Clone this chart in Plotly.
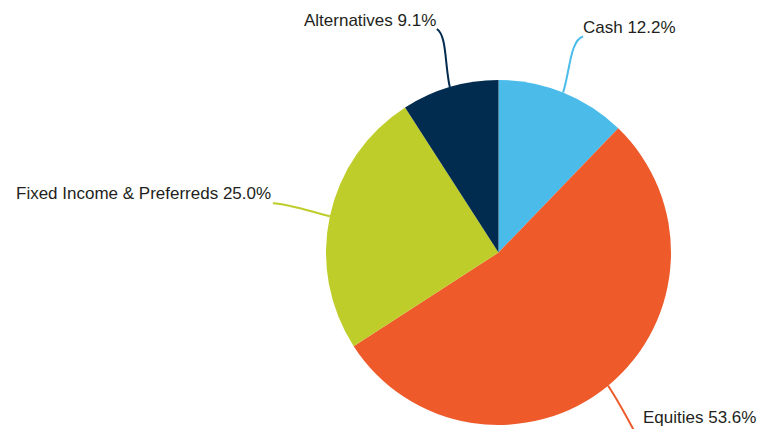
import math
import plotly.graph_objects as go

# ---- data ----
categories = ["Cash", "Equities", "Fixed Income & Preferreds", "Alternatives"]
values = [12.2, 53.6, 25.0, 9.1]
colors = ["#4BBCEA", "#EE5A2A", "#BFCD2B", "#012B4F"]

W, H = 761, 429
CX, CY, R = 498.5, 252.5, 172.5  # pie centre / radius in pixels

# label placement (style): offsets from the slice edge point to the label anchor
label_style = {
    "Cash": dict(xanchor="left", dx=18, dy=-65, c1=(7, -22), c2=(7, -52)),
    "Equities": dict(xanchor="left", dx=33, dy=32, c1=(10, 15), c2=(18, 30)),
    "Fixed Income & Preferreds": dict(xanchor="right", dx=-57, dy=-23, c1=(-20, -5), c2=(-40, -12)),
    "Alternatives": dict(xanchor="right", dx=-12, dy=-67, c1=(-5, -22), c2=(-3, -52)),
}
line_end = {
    "Cash": (20, -56),
    "Equities": (27, 47),
    "Fixed Income & Preferreds": (-57, -13),
    "Alternatives": (-13, -58),
}


def px(x, y):
    return x / W, 1 - y / H


fig = go.Figure(go.Pie(
    labels=categories,
    values=values,
    sort=False,
    direction="clockwise",
    rotation=0,
    marker=dict(colors=colors, line=dict(color="white", width=0)),
    textinfo="none",
    hoverinfo="label+percent",
    showlegend=False,
    domain=dict(x=[(CX - R) / W, (CX + R) / W], y=[1 - (CY + R) / H, 1 - (CY - R) / H]),
))

total = sum(values)
cum = 0.0
annotations = []
shapes = []
for cat, val, col in zip(categories, values, colors):
    mid = (cum + val / 2) / total * 2 * math.pi
    cum += val
    sx = CX + R * math.sin(mid)
    sy = CY - R * math.cos(mid)
    st = label_style[cat]
    ex, ey = sx + line_end[cat][0], sy + line_end[cat][1]
    c1 = (sx + st["c1"][0], sy + st["c1"][1])
    c2 = (sx + st["c2"][0], sy + st["c2"][1])
    pts = [px(*p) for p in [(sx, sy), c1, c2, (ex, ey)]]
    path = "M {:.5f},{:.5f} C {:.5f},{:.5f} {:.5f},{:.5f} {:.5f},{:.5f}".format(
        *[v for p in pts for v in p])
    shapes.append(dict(type="path", xref="paper", yref="paper", path=path,
                       line=dict(color=col, width=2)))
    lx, ly = px(sx + st["dx"], sy + st["dy"])
    annotations.append(dict(
        x=lx, y=ly, xref="paper", yref="paper",
        text=f"{cat} {val:.1f}%", showarrow=False,
        xanchor=st["xanchor"], yanchor="middle",
        font=dict(family="Liberation Sans, Arial, sans-serif", size=17, color="#231F20"),
    ))

fig.update_layout(
    width=W, height=H,
    margin=dict(l=0, r=0, t=0, b=0),
    paper_bgcolor="white",
    plot_bgcolor="white",
    annotations=annotations,
    shapes=shapes,
)

fig.write_html("out.html", config={"displayModeBar": False},
               post_script="document.body.style.margin='0';document.body.style.overflow='hidden';")
